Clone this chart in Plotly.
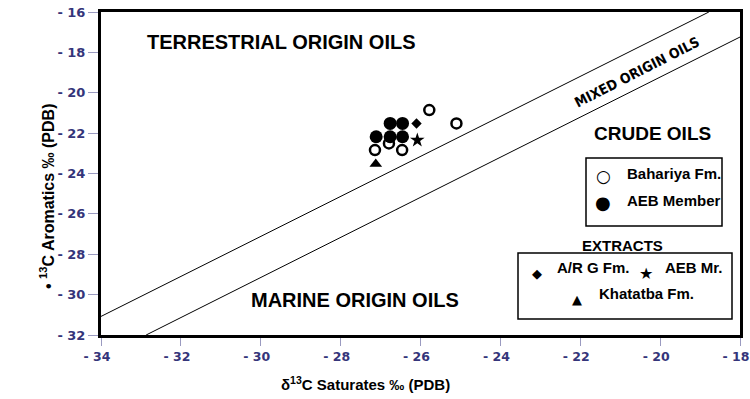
import plotly.graph_objects as go

# ---------------- data ----------------
bahariya_x = [-25.78, -25.10, -26.79, -27.14, -26.46]
bahariya_y = [-20.86, -21.52, -22.51, -22.84, -22.84]
aeb_member_x = [-26.76, -26.45, -27.11, -26.76, -26.45]
aeb_member_y = [-21.52, -21.52, -22.18, -22.18, -22.18]
arg_x = [-26.10]
arg_y = [-21.52]
aeb_mr_x = [-26.08]
aeb_mr_y = [-22.35]
khatatba_x = [-27.12]
khatatba_y = [-23.53]

# boundary lines (terrestrial / marine)
upper_line_x = [-34.0, -18.78]
upper_line_y = [-31.08, -16.0]
lower_line_x = [-32.87, -18.0]
lower_line_y = [-32.0, -17.24]

x_tick_vals = [-34, -32, -30, -28, -26, -24, -22, -20, -18]
x_tick_text = ["- 34", "- 32", "- 30", "- 28", "- 26", "- 24", "- 22", "- 20", "- 18"]
y_tick_vals = [-16, -18, -20, -22, -24, -26, -28, -30, -32]
y_tick_text = ["- 16", "- 18", "- 20", "- 22", "- 24", "- 26", "- 28", "- 30", "- 32"]

# ---------------- layout helpers ----------------
W, H = 750, 399
PL, PT, PR, PB = 101, 12, 10, 64
PW, PH = W - PL - PR, H - PT - PB


def fx(px):
    return (px - PL) / PW


def fy(py):
    return (PT + PH - py) / PH


TICK_COLOR = "#35357a"
SANS = "Liberation Sans, Arial, Helvetica, sans-serif"
NARROW = "Liberation Sans Narrow, Arial Narrow, DejaVu Sans Condensed, sans-serif"
SYM = "DejaVu Sans, sans-serif"

fig = go.Figure()

fig.add_trace(go.Scatter(x=upper_line_x, y=upper_line_y, mode="lines",
                         line=dict(color="black", width=1), hoverinfo="skip"))
fig.add_trace(go.Scatter(x=lower_line_x, y=lower_line_y, mode="lines",
                         line=dict(color="black", width=1), hoverinfo="skip"))

fig.add_trace(go.Scatter(x=bahariya_x, y=bahariya_y, mode="markers", name="Bahariya Fm.",
                         marker=dict(symbol="circle-open", size=10, color="black",
                                     line=dict(width=2.5, color="black"))))
fig.add_trace(go.Scatter(x=aeb_member_x, y=aeb_member_y, mode="markers", name="AEB Member",
                         marker=dict(symbol="circle", size=13, color="black")))
fig.add_trace(go.Scatter(x=arg_x, y=arg_y, mode="markers", name="A/R G Fm.",
                         marker=dict(symbol="diamond", size=8, color="black")))
fig.add_trace(go.Scatter(x=aeb_mr_x, y=aeb_mr_y, mode="markers", name="AEB Mr.",
                         marker=dict(symbol="star", size=11, color="black")))
fig.add_trace(go.Scatter(x=khatatba_x, y=khatatba_y, mode="markers", name="Khatatba Fm.",
                         marker=dict(symbol="triangle-up", size=11, color="black")))

annotations = []


def add_text(text, px, py, size, family=SANS, xanchor="center", angle=0, color="black"):
    annotations.append(dict(text=text, x=fx(px), y=fy(py), xref="paper", yref="paper",
                            xanchor=xanchor, yanchor="middle", showarrow=False,
                            textangle=angle, font=dict(family=family, size=size, color=color)))


# region labels
add_text("<b>TERRESTRIAL ORIGIN OILS</b>", 281.5, 41.7, 20)
add_text("<b>MARINE ORIGIN OILS</b>", 355, 300, 20)
add_text("<b>CRUDE OILS</b>", 652, 133, 19)
add_text("<b>MIXED ORIGIN OILS</b>", 637, 72, 14, family=NARROW, angle=-27)

# legend 1
add_text("<b>○</b>", 603, 176, 17, family=SYM)
add_text("<b>Bahariya Fm.</b>", 625, 173, 15, xanchor="left")
add_text("●", 603, 203, 18, family=SYM)
add_text("<b>AEB Member</b>", 625, 200, 15, xanchor="left")

# legend 2
add_text("<b>EXTRACTS</b>", 622, 245, 15)
add_text("◆", 537, 273, 13, family=SYM)
add_text("<b>A/R G Fm.</b>", 555, 267, 15, xanchor="left")
add_text("★", 646, 273, 16, family=SYM)
add_text("<b>AEB Mr.</b>", 663, 267, 15, xanchor="left")
add_text("▲", 577, 299, 13, family=SYM)
add_text("<b>Khatatba Fm.</b>", 597, 293, 15, xanchor="left")

# axis titles
add_text("<b>δ<sup>13</sup>C Saturates ‰ (PDB)</b>", 365, 383, 15)
add_text("<b>• <sup>13</sup>C Aromatics ‰ (PDB)</b>", 47, 197, 16, angle=-90)

shapes = [
    dict(type="rect", xref="paper", yref="paper", x0=fx(586), x1=fx(722), y0=fy(158), y1=fy(226),
         line=dict(color="black", width=1.5), fillcolor="rgba(0,0,0,0)"),
    dict(type="rect", xref="paper", yref="paper", x0=fx(518), x1=fx(732), y0=fy(253), y1=fy(319),
         line=dict(color="black", width=1.5), fillcolor="rgba(0,0,0,0)"),
]

fig.update_layout(
    width=W, height=H,
    margin=dict(l=PL, r=PR, t=PT, b=PB, autoexpand=False),
    paper_bgcolor="white", plot_bgcolor="white",
    showlegend=False,
    annotations=annotations,
    shapes=shapes,
)

y_font = dict(family="DejaVu Sans, sans-serif", size=13, color=TICK_COLOR, weight="bold")
x_font = dict(family="DejaVu Sans, sans-serif", size=12.5, color=TICK_COLOR, weight="bold")
fig.update_xaxes(range=[-34, -18], tickvals=x_tick_vals, ticktext=x_tick_text,
                 ticks="outside", ticklen=8, tickwidth=1, tickcolor="#9a9ac0",
                 showline=True, linecolor="black", linewidth=3, mirror=True,
                 showgrid=False, zeroline=False, automargin=False,
                 ticklabeloverflow="allow", ticklabelshift=-4, tickfont=x_font)
fig.update_yaxes(range=[-32, -16], tickvals=y_tick_vals, ticktext=y_tick_text,
                 ticks="outside", ticklen=10, tickwidth=1, tickcolor="#9a9ac0",
                 showline=True, linecolor="black", linewidth=3, mirror=True,
                 showgrid=False, zeroline=False, automargin=False,
                 ticklabeloverflow="allow", tickfont=y_font)

fig.write_html("out.html",
               config={"displayModeBar": False},
               post_script="document.body.style.margin='0';document.body.style.overflow='hidden';")
